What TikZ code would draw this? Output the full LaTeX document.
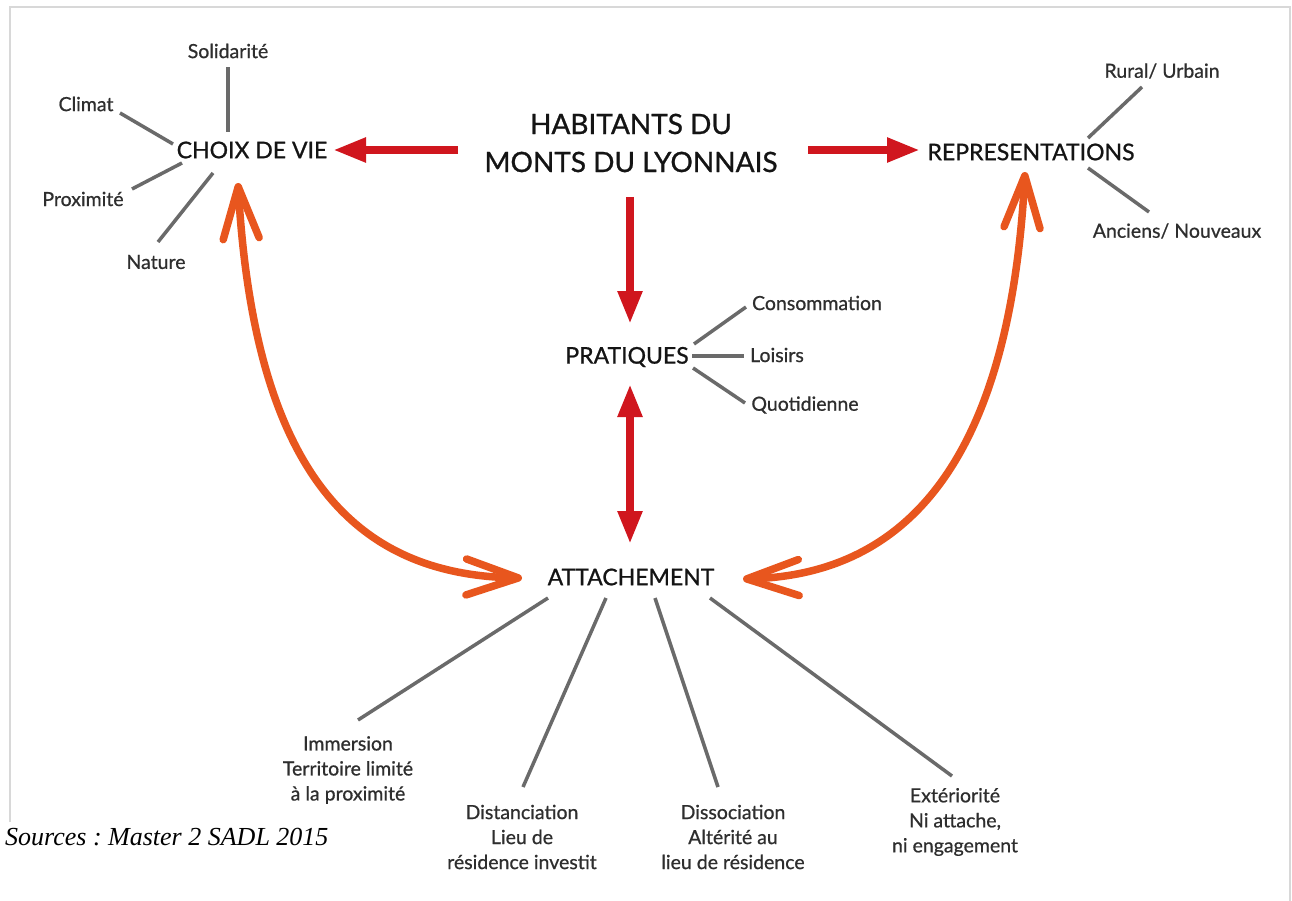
\documentclass[tikz,border=0pt]{standalone}
\usepackage{fontspec}
\setmainfont{Lato}
\newfontfamily\medfont{Lato}[FakeBold=0.9]
\newfontfamily\subfont{Lato}[FakeBold=0.7]
\newfontfamily\srcfont{Liberation Serif}
\usetikzlibrary{arrows.meta}
\definecolor{rouge}{HTML}{D0161E}
\definecolor{orangec}{HTML}{E8561E}
\definecolor{spokec}{HTML}{6A6A6A}
\definecolor{txtc}{HTML}{141414}
\definecolor{subc}{HTML}{2E2E2E}
\definecolor{framec}{HTML}{D8D8D8}
\frenchspacing
\begin{document}
\begin{tikzpicture}[x=1pt,y=-1pt,
  mainlbl/.style={font=\medfont\fontsize{23}{27}\selectfont, text=txtc, inner sep=0pt},
  titlelbl/.style={font=\medfont\fontsize{28}{38}\selectfont, text=txtc, inner sep=0pt, align=center},
  sublbl/.style={font=\subfont\fontsize{19.5}{25}\selectfont, text=subc, inner sep=0pt, align=center},
  spoke/.style={draw=spokec, line width=3.5pt},
  redarr/.style={draw=rouge, line width=8pt, >={Triangle[length=33pt,width=23pt]}},
  orangearr/.style={draw=orangec, line width=7.5pt, line cap=round, >={Straight Barb[length=52pt,width=36pt,round]}},
]
\useasboundingbox (0,0) rectangle (1292,901);
\fill[white] (0,0) rectangle (1292,901);
\draw[framec, line width=1.5pt] (10,822) -- (10,7) -- (1290,7) -- (1290,901);

% main nodes
\node[titlelbl] (habit) at (631,143) {HABITANTS DU\\MONTS DU LYONNAIS};
\node[mainlbl] (choix) at (252,150) {CHOIX DE VIE};
\node[mainlbl] (repr) at (1031,152) {REPRESENTATIONS};
\node[mainlbl] (prat) at (627,357) {PRATIQUES};
\node[mainlbl] (attach) at (631,577) {ATTACHEMENT};

% sub labels
\node[sublbl] (solid) at (228,51) {Solidarité};
\node[sublbl] (climat) at (86,104) {Climat};
\node[sublbl] (prox) at (83,199) {Proximité};
\node[sublbl] (nature) at (156,262) {Nature};
\node[sublbl] (rural) at (1162,71) {Rural/ Urbain};
\node[sublbl] (anciens) at (1177,231) {Anciens/ Nouveaux};
\node[sublbl] (conso) at (817,303) {Consommation};
\node[sublbl] (loisirs) at (777,355) {Loisirs};
\node[sublbl] (quot) at (805,405) {Quotidienne};
\node[sublbl] (immer) at (348,770) {Immersion\\Territoire limité\\à la proximité};
\node[sublbl] (distan) at (522,837) {Distanciation\\Lieu de\\résidence investit};
\node[sublbl] (dissoc) at (733,837) {Dissociation\\Altérité au\\lieu de résidence};
\node[sublbl] (exter) at (955,822) {Extériorité\\Ni attache,\\ni engagement};
\node[anchor=west, inner sep=0pt, font=\srcfont\itshape\fontsize{26}{30}\selectfont, text=black] (src) at (5,837) {Sources : Master 2 SADL 2015};

% spoke end points
\coordinate (sA) at (228,132); \coordinate (sB) at (228,67);
\coordinate (cA) at (173,144); \coordinate (cB) at (120,113);
\coordinate (pA) at (182,163); \coordinate (pB) at (132,189);
\coordinate (nA) at (213,173); \coordinate (nB) at (158,242);
\coordinate (rA) at (1088,138); \coordinate (rB) at (1142,87);
\coordinate (aA) at (1088,168); \coordinate (aB) at (1149,212);
\coordinate (coA) at (694,344); \coordinate (coB) at (746,307);
\coordinate (loA) at (692,356); \coordinate (loB) at (744,356);
\coordinate (quA) at (693,368); \coordinate (quB) at (745,403);
\coordinate (imA) at (548,598); \coordinate (imB) at (358,720);
\coordinate (diA) at (606,598); \coordinate (diB) at (523,787);
\coordinate (dsA) at (655,598); \coordinate (dsB) at (718,787);
\coordinate (exA) at (710,598); \coordinate (exB) at (952,776);

\draw[spoke] (sA) -- (sB);
\draw[spoke] (cA) -- (cB);
\draw[spoke] (pA) -- (pB);
\draw[spoke] (nA) -- (nB);
\draw[spoke] (rA) -- (rB);
\draw[spoke] (aA) -- (aB);
\draw[spoke] (coA) -- (coB);
\draw[spoke] (loA) -- (loB);
\draw[spoke] (quA) -- (quB);
\draw[spoke] (imA) -- (imB);
\draw[spoke] (diA) -- (diB);
\draw[spoke] (dsA) -- (dsB);
\draw[spoke] (exA) -- (exB);

% red arrows
\coordinate (hL) at (458,150); \coordinate (chE) at (333,150);
\coordinate (hR) at (808,150); \coordinate (reW) at (920,150);
\coordinate (hS) at (630,197); \coordinate (prN) at (630,324);
\coordinate (prS) at (630,384); \coordinate (atN) at (630,544);
\draw[redarr,->] (hL) -- (chE);
\draw[redarr,->] (hR) -- (reW);
\draw[redarr,->] (hS) -- (prN);
\draw[redarr,<->] (prS) -- (atN);

% orange curved double arrows
\coordinate (chS) at (238,183); \coordinate (atW) at (522,578);
\coordinate (reS) at (1025,172); \coordinate (atE) at (743,579);
\draw[orangearr,<->] (chS) .. controls (255,480) and (360,575) .. (atW);
\draw[orangearr,<->] (reS) .. controls (1009,470) and (900,575) .. (atE);
\end{tikzpicture}
\end{document}
